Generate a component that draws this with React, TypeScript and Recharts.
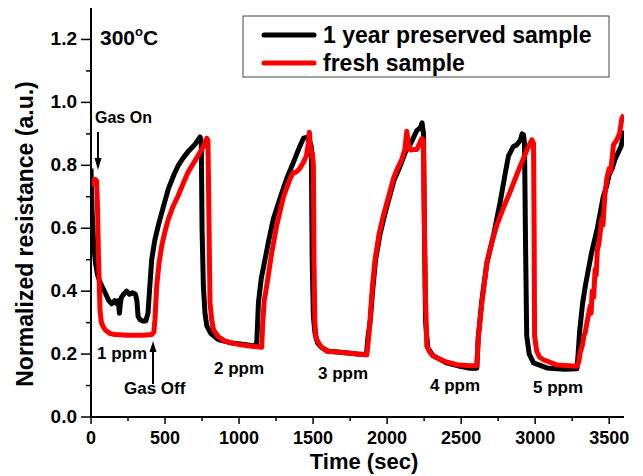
import React from 'react';
import { LineChart, Line, XAxis, YAxis } from 'recharts';

// time (sec), normalized resistance
const PRESERVED: [number, number][] = [
  [0, 0.79], [8, 0.65], [18, 0.55], [30, 0.49], [45, 0.45], [60, 0.43], [80, 0.41], [100, 0.39],
  [120, 0.37], [140, 0.36], [160, 0.37], [175, 0.36], [185, 0.37], [192, 0.33], [198, 0.36],
  [205, 0.38], [220, 0.39], [240, 0.4], [260, 0.39], [280, 0.395], [300, 0.39], [310, 0.37],
  [318, 0.32], [330, 0.31], [350, 0.305], [370, 0.305], [385, 0.33], [395, 0.4], [410, 0.5],
  [430, 0.56], [455, 0.61], [490, 0.67], [523, 0.726], [560, 0.77], [590, 0.8], [625, 0.825],
  [658, 0.845], [700, 0.865], [737, 0.89], [745, 0.87], [750, 0.6], [759, 0.417], [770, 0.33],
  [782, 0.29], [810, 0.265], [860, 0.246], [950, 0.235], [1050, 0.23], [1110, 0.225], [1120, 0.24],
  [1131, 0.364], [1150, 0.44], [1176, 0.502], [1200, 0.56], [1232, 0.63], [1280, 0.7], [1322, 0.758],
  [1350, 0.79], [1378, 0.822], [1410, 0.86], [1435, 0.886], [1468, 0.89], [1488, 0.86], [1494, 0.5],
  [1502, 0.32], [1512, 0.27], [1530, 0.235], [1560, 0.22], [1600, 0.21], [1700, 0.205], [1800, 0.2],
  [1860, 0.198], [1870, 0.25], [1887, 0.31], [1902, 0.4], [1922, 0.5], [1952, 0.58], [1982, 0.64],
  [2045, 0.75], [2090, 0.8], [2130, 0.85], [2160, 0.87], [2200, 0.91], [2225, 0.92], [2236, 0.935],
  [2246, 0.9], [2252, 0.6], [2260, 0.3], [2275, 0.22], [2310, 0.195], [2400, 0.172], [2500, 0.16],
  [2560, 0.155], [2606, 0.155], [2615, 0.25], [2640, 0.37], [2674, 0.49], [2720, 0.58], [2764, 0.684],
  [2800, 0.78], [2820, 0.83], [2853, 0.86], [2876, 0.865], [2900, 0.88], [2912, 0.9], [2921, 0.897],
  [2928, 0.87], [2935, 0.55], [2943, 0.257], [2960, 0.2], [2989, 0.172], [3079, 0.156], [3200, 0.152],
  [3282, 0.153], [3290, 0.2], [3300, 0.27], [3320, 0.36], [3340, 0.42], [3360, 0.47], [3380, 0.52],
  [3400, 0.56], [3420, 0.6], [3440, 0.65], [3460, 0.7], [3480, 0.73], [3500, 0.77], [3520, 0.79],
  [3540, 0.82], [3560, 0.84], [3580, 0.86], [3590, 0.88], [3600, 0.91],
];

const FRESH: [number, number][] = [
  [0, 0.735], [10, 0.74], [20, 0.755], [30, 0.755], [38, 0.75], [45, 0.65], [50, 0.52], [56, 0.42],
  [61, 0.34], [70, 0.3], [85, 0.285], [100, 0.275], [130, 0.265], [162, 0.262], [250, 0.26],
  [350, 0.26], [410, 0.262], [425, 0.27], [432, 0.31], [444, 0.417], [460, 0.49], [478, 0.545],
  [500, 0.59], [523, 0.63], [555, 0.67], [590, 0.705], [625, 0.745], [658, 0.78], [690, 0.805],
  [725, 0.833], [760, 0.86], [782, 0.886], [790, 0.88], [795, 0.7], [800, 0.5], [804, 0.364],
  [815, 0.31], [827, 0.278], [860, 0.255], [905, 0.241], [1000, 0.23], [1086, 0.225], [1153, 0.222],
  [1160, 0.3], [1170, 0.37], [1187, 0.417], [1220, 0.52], [1255, 0.61], [1300, 0.7], [1345, 0.758],
  [1365, 0.775], [1390, 0.78], [1410, 0.79], [1435, 0.81], [1455, 0.83], [1468, 0.87], [1475, 0.905],
  [1480, 0.87], [1485, 0.845], [1495, 0.84], [1502, 0.8], [1506, 0.5], [1512, 0.3], [1520, 0.25],
  [1550, 0.225], [1592, 0.209], [1700, 0.205], [1800, 0.2], [1863, 0.198], [1875, 0.25], [1885, 0.31],
  [1900, 0.41], [1919, 0.502], [1945, 0.58], [1975, 0.641], [2010, 0.7], [2043, 0.758], [2070, 0.79],
  [2100, 0.82], [2120, 0.85], [2133, 0.908], [2143, 0.87], [2155, 0.849], [2180, 0.85], [2201, 0.85],
  [2220, 0.87], [2234, 0.885], [2245, 0.88], [2252, 0.6], [2258, 0.4], [2268, 0.225], [2290, 0.205],
  [2313, 0.193], [2400, 0.175], [2471, 0.166], [2560, 0.163], [2606, 0.163], [2617, 0.257],
  [2640, 0.364], [2674, 0.49], [2710, 0.56], [2741, 0.61], [2790, 0.67], [2831, 0.716], [2880, 0.775],
  [2921, 0.822], [2950, 0.855], [2978, 0.881], [2989, 0.87], [2993, 0.6], [2996, 0.257], [3010, 0.21],
  [3030, 0.19], [3056, 0.182], [3150, 0.165], [3282, 0.161], [3295, 0.175], [3304, 0.204],
  [3320, 0.23], [3330, 0.26], [3338, 0.268], [3350, 0.3], [3372, 0.353], [3378, 0.33], [3385, 0.4],
  [3395, 0.38], [3405, 0.47], [3412, 0.45], [3420, 0.53], [3430, 0.55], [3451, 0.63], [3458, 0.61],
  [3470, 0.7], [3484, 0.758], [3500, 0.79], [3510, 0.78], [3529, 0.865], [3550, 0.88], [3570, 0.9],
  [3586, 0.95], [3600, 0.96],
];

const X_TICKS = [0, 250, 500, 750, 1000, 1250, 1500, 1750, 2000, 2250, 2500, 2750, 3000, 3250, 3500];
const Y_TICKS = [0, 0.1, 0.2, 0.3, 0.4, 0.5, 0.6, 0.7, 0.8, 0.9, 1.0, 1.1, 1.2];

const FONT = "'Liberation Sans', Arial, sans-serif";

const preservedData = PRESERVED.map(([x, y]) => ({ x, y }));
const freshData = FRESH.map(([x, y]) => ({ x, y }));

const YTick = ({ x, y, payload }: any) => {
  const v = payload.value as number;
  const major = Math.round(v * 10) % 2 === 0;
  return (
    <g>
      <line x1={x} x2={x - (major ? 10 : 5)} y1={y} y2={y} stroke="#000" strokeWidth={1.5} />
      {major && (
        <text x={x - 14} y={y + 6} textAnchor="end" fontSize={19} fontWeight="bold" fontFamily={FONT} fill="#000">
          {v.toFixed(1)}
        </text>
      )}
    </g>
  );
};

const XTick = ({ x, y, payload }: any) => {
  const v = payload.value as number;
  const major = v % 500 === 0;
  return (
    <g>
      <line x1={x} x2={x} y1={y} y2={y + (major ? 7 : 4)} stroke="#000" strokeWidth={1.5} />
      {major && (
        <text x={x} y={y + 27} textAnchor="middle" fontSize={18} fontWeight="bold" fontFamily={FONT} fill="#000">
          {v}
        </text>
      )}
    </g>
  );
};

const txt = { fontFamily: FONT, fontWeight: 'bold' as const, fill: '#000' };

export default function App() {
  return (
    <div style={{ position: 'absolute', left: 0, top: 0, width: 643, height: 476, background: '#fff' }}>
      <LineChart width={643} height={476} margin={{ top: 8, right: 19, left: 0, bottom: 0 }}>
        <XAxis
          dataKey="x"
          type="number"
          domain={[0, 3600]}
          ticks={X_TICKS}
          interval={0}
          height={59}
          tickSize={0}
          tickMargin={0}
          tickLine={false}
          tick={<XTick />}
          axisLine={{ stroke: '#000', strokeWidth: 2 }}
          allowDataOverflow
        />
        <XAxis xAxisId="top" orientation="top" type="number" domain={[0, 3600]} height={0} tick={false} tickLine={false} axisLine={{ stroke: '#000', strokeWidth: 1.5 }} />
        <YAxis
          type="number"
          domain={[0, 1.3]}
          ticks={Y_TICKS}
          interval={0}
          width={91}
          tickSize={0}
          tickMargin={0}
          tickLine={false}
          tick={<YTick />}
          axisLine={{ stroke: '#000', strokeWidth: 2 }}
          allowDataOverflow
        />
        <YAxis yAxisId="right" orientation="right" type="number" domain={[0, 1.3]} width={0} tick={false} tickLine={false} axisLine={{ stroke: '#000', strokeWidth: 1.5 }} />
        <Line data={preservedData} dataKey="y" type="linear" stroke="#000" strokeWidth={5} dot={false} strokeLinejoin="round" isAnimationActive={false} />
        <Line data={freshData} dataKey="y" type="linear" stroke="#ff0000" strokeWidth={5} dot={false} strokeLinejoin="round" isAnimationActive={false} />
      </LineChart>

      {/* titles, legend and annotations */}
      <svg width={643} height={476} style={{ position: 'absolute', left: 0, top: 0, pointerEvents: 'none' }}>
        <text transform="rotate(-90)" x={-234} y={33} textAnchor="middle" fontSize={23} {...txt}>
          Normalized resistance (a.u.)
        </text>
        <text x={364} y={469} textAnchor="middle" fontSize={22} {...txt}>Time (sec)</text>

        <text x={100} y={45} fontSize={21} {...txt}>
          300<tspan dy={-9} fontSize={13}>o</tspan><tspan dy={9}>C</tspan>
        </text>

        <rect x={243} y={16} width={366} height={61} fill="#fff" stroke="#444" strokeWidth={1} />
        <line x1={264} x2={314} y1={35} y2={35} stroke="#000" strokeWidth={5} strokeLinecap="round" />
        <line x1={264} x2={314} y1={63} y2={63} stroke="#ff0000" strokeWidth={5} strokeLinecap="round" />
        <text x={323} y={43} fontSize={23} {...txt}>1 year preserved sample</text>
        <text x={323} y={71} fontSize={23} {...txt}>fresh sample</text>

        <text x={95} y={123} fontSize={16} {...txt}>Gas On</text>
        <line x1={98} x2={98} y1={132} y2={160} stroke="#000" strokeWidth={2} />
        <polygon points="94.5,158 101.5,158 98,170" fill="#000" />

        <text x={124} y={394} fontSize={17} {...txt}>Gas Off</text>
        <line x1={153} x2={153} y1={384} y2={350} stroke="#000" strokeWidth={2} />
        <polygon points="149.5,352 156.5,352 153,341" fill="#000" />

        <text x={97} y={359} fontSize={17} {...txt}>1 ppm</text>
        <text x={214} y={374} fontSize={17} {...txt}>2 ppm</text>
        <text x={318} y={379} fontSize={17} {...txt}>3 ppm</text>
        <text x={430} y={391} fontSize={17} {...txt}>4 ppm</text>
        <text x={533} y={393} fontSize={17} {...txt}>5 ppm</text>
      </svg>
    </div>
  );
}
